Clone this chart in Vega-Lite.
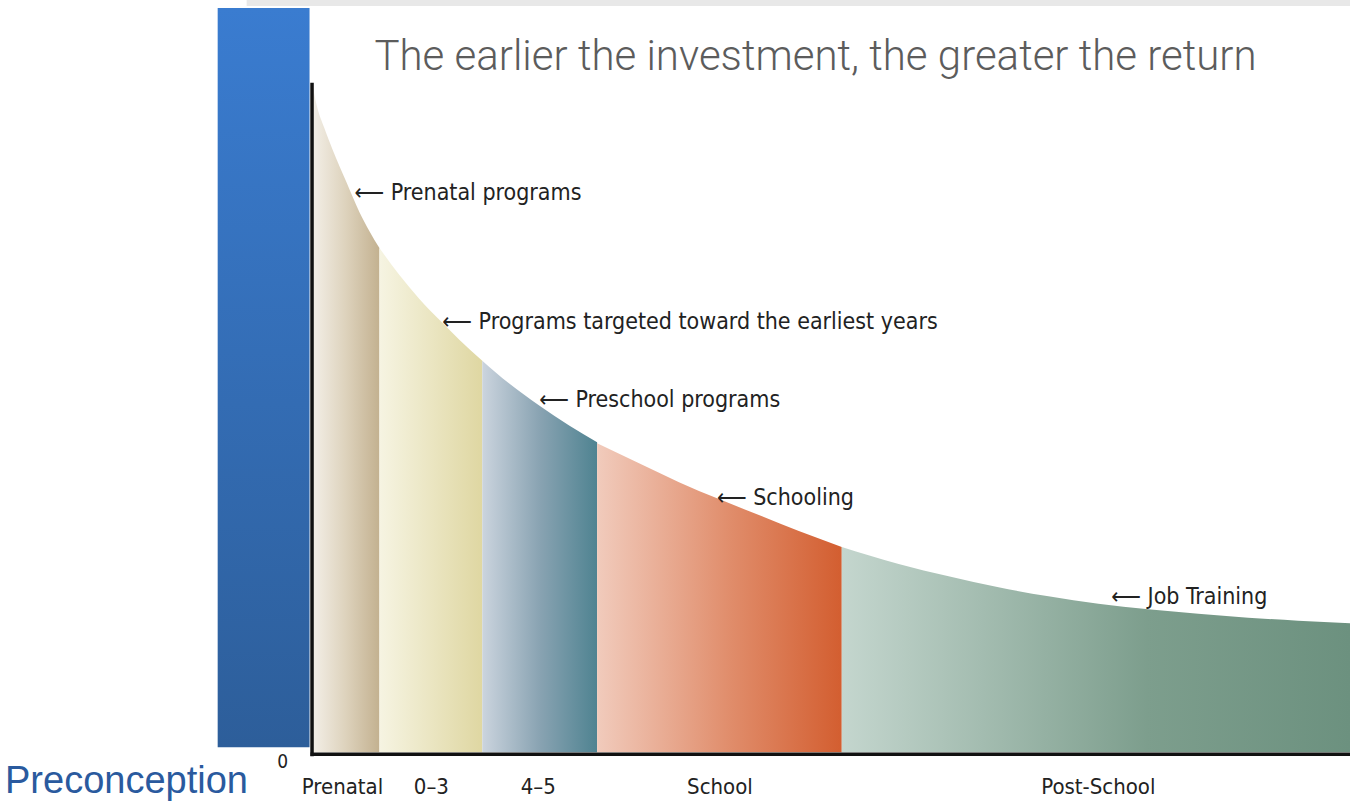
{
  "$schema": "https://vega.github.io/schema/vega-lite/v6.json",
  "width": 1352,
  "height": 801,
  "autosize": {"type": "fit", "contains": "padding"},
  "padding": 0,
  "background": "white",
  "config": {"view": {"stroke": null}},
  "datasets": {
    "curve": [
      {"seg": "Prenatal", "x": 0, "r": 670},
      {"seg": "Prenatal", "x": 4, "r": 650},
      {"seg": "Prenatal", "x": 12, "r": 626},
      {"seg": "Prenatal", "x": 20, "r": 605},
      {"seg": "Prenatal", "x": 34, "r": 572},
      {"seg": "Prenatal", "x": 47, "r": 542},
      {"seg": "Prenatal", "x": 57, "r": 523},
      {"seg": "Prenatal", "x": 67, "r": 506},
      {"seg": "0–3", "x": 67, "r": 506},
      {"seg": "0–3", "x": 87, "r": 479},
      {"seg": "0–3", "x": 107, "r": 455},
      {"seg": "0–3", "x": 127, "r": 434},
      {"seg": "0–3", "x": 147, "r": 414},
      {"seg": "0–3", "x": 170, "r": 393},
      {"seg": "4–5", "x": 170, "r": 393},
      {"seg": "4–5", "x": 197, "r": 370},
      {"seg": "4–5", "x": 227, "r": 348},
      {"seg": "4–5", "x": 257, "r": 328},
      {"seg": "4–5", "x": 285, "r": 311},
      {"seg": "School", "x": 285, "r": 310},
      {"seg": "School", "x": 327, "r": 290},
      {"seg": "School", "x": 367, "r": 271},
      {"seg": "School", "x": 407, "r": 254},
      {"seg": "School", "x": 447, "r": 238},
      {"seg": "School", "x": 487, "r": 222},
      {"seg": "School", "x": 530, "r": 206},
      {"seg": "Post-School", "x": 530, "r": 206},
      {"seg": "Post-School", "x": 587, "r": 189},
      {"seg": "Post-School", "x": 637, "r": 176.5},
      {"seg": "Post-School", "x": 687, "r": 165.5},
      {"seg": "Post-School", "x": 737, "r": 156.5},
      {"seg": "Post-School", "x": 787, "r": 149},
      {"seg": "Post-School", "x": 837, "r": 143.5},
      {"seg": "Post-School", "x": 887, "r": 139},
      {"seg": "Post-School", "x": 937, "r": 135},
      {"seg": "Post-School", "x": 987, "r": 132},
      {"seg": "Post-School", "x": 1039, "r": 129.5}
    ],
    "notes": [
      {"x": 42, "r": 561, "text": "⟵ Prenatal programs"},
      {"x": 130, "r": 432, "text": "⟵ Programs targeted toward the earliest years"},
      {"x": 227, "r": 353, "text": "⟵  Preschool programs"},
      {"x": 405, "r": 255, "text": "⟵ Schooling"},
      {"x": 800, "r": 156, "text": "⟵ Job Training"}
    ],
    "ticks": [
      {"x": 30, "text": "Prenatal"},
      {"x": 119, "text": "0–3"},
      {"x": 226, "text": "4–5"},
      {"x": 408, "text": "School"},
      {"x": 787, "text": "Post-School"}
    ],
    "pre": [
      {"x": -95, "x2": -3, "r": 747, "r2": 5, "name": "Preconception"}
    ],
    "strip": [
      {"x": -66, "x2": 1039, "r": 755, "r2": 749}
    ],
    "axes": [
      {"x": -0.5, "x2": -0.5, "r": 672, "r2": -4},
      {"x": -2, "x2": 1039, "r": -2, "r2": -2}
    ]
  },
  "layer": [
    {
      "data": {"name": "strip"},
      "mark": {"type": "rect", "color": "#e8e8e8"},
      "encoding": {
        "x": {"field": "x", "type": "quantitative", "axis": null, "scale": {"domain": [-313, 1039], "nice": false, "zero": false}},
        "x2": {"field": "x2"},
        "y": {"field": "r", "type": "quantitative", "axis": null, "scale": {"domain": [-46, 755], "nice": false, "zero": false}},
        "y2": {"field": "r2"}
      }
    },
    {
      "data": {"name": "pre"},
      "mark": {"type": "rect", "color": {"gradient": "linear", "x1": 0, "y1": 0, "x2": 0, "y2": 1, "stops": [{"offset": 0, "color": "#3a7cd0"}, {"offset": 1, "color": "#2d5e9a"}]}},
      "encoding": {
        "x": {"field": "x", "type": "quantitative", "axis": null, "scale": {"domain": [-313, 1039], "nice": false, "zero": false}},
        "x2": {"field": "x2"},
        "y": {"field": "r", "type": "quantitative", "axis": null, "scale": {"domain": [-46, 755], "nice": false, "zero": false}},
        "y2": {"field": "r2"}
      }
    },
    {
      "data": {"name": "curve"},
      "transform": [{"filter": "datum.seg === 'Prenatal'"}],
      "mark": {"type": "area", "interpolate": "monotone", "color": {"gradient": "linear", "x1": 0, "y1": 0, "x2": 1, "y2": 0, "stops": [{"offset": 0, "color": "#f3efe7"}, {"offset": 0.5, "color": "#ddd2bc"}, {"offset": 1, "color": "#c3b190"}]}},
      "encoding": {
        "x": {"field": "x", "type": "quantitative", "axis": null, "scale": {"domain": [-313, 1039], "nice": false, "zero": false}},
        "y": {"field": "r", "type": "quantitative", "axis": null, "scale": {"domain": [-46, 755], "nice": false, "zero": false}}
      }
    },
    {
      "data": {"name": "curve"},
      "transform": [{"filter": "datum.seg === '0–3'"}],
      "mark": {"type": "area", "interpolate": "monotone", "color": {"gradient": "linear", "x1": 0, "y1": 0, "x2": 1, "y2": 0, "stops": [{"offset": 0, "color": "#f6f4e2"}, {"offset": 1, "color": "#dfd7a2"}]}},
      "encoding": {
        "x": {"field": "x", "type": "quantitative", "axis": null, "scale": {"domain": [-313, 1039], "nice": false, "zero": false}},
        "y": {"field": "r", "type": "quantitative", "axis": null, "scale": {"domain": [-46, 755], "nice": false, "zero": false}}
      }
    },
    {
      "data": {"name": "curve"},
      "transform": [{"filter": "datum.seg === '4–5'"}],
      "mark": {"type": "area", "interpolate": "monotone", "color": {"gradient": "linear", "x1": 0, "y1": 0, "x2": 1, "y2": 0, "stops": [{"offset": 0, "color": "#cbd4de"}, {"offset": 0.5, "color": "#89a3b2"}, {"offset": 1, "color": "#4f8391"}]}},
      "encoding": {
        "x": {"field": "x", "type": "quantitative", "axis": null, "scale": {"domain": [-313, 1039], "nice": false, "zero": false}},
        "y": {"field": "r", "type": "quantitative", "axis": null, "scale": {"domain": [-46, 755], "nice": false, "zero": false}}
      }
    },
    {
      "data": {"name": "curve"},
      "transform": [{"filter": "datum.seg === 'School'"}],
      "mark": {"type": "area", "interpolate": "monotone", "color": {"gradient": "linear", "x1": 0, "y1": 0, "x2": 1, "y2": 0, "stops": [{"offset": 0, "color": "#f1cbbc"}, {"offset": 0.55, "color": "#e08c6a"}, {"offset": 1, "color": "#d35e30"}]}},
      "encoding": {
        "x": {"field": "x", "type": "quantitative", "axis": null, "scale": {"domain": [-313, 1039], "nice": false, "zero": false}},
        "y": {"field": "r", "type": "quantitative", "axis": null, "scale": {"domain": [-46, 755], "nice": false, "zero": false}}
      }
    },
    {
      "data": {"name": "curve"},
      "transform": [{"filter": "datum.seg === 'Post-School'"}],
      "mark": {"type": "area", "interpolate": "monotone", "color": {"gradient": "linear", "x1": 0, "y1": 0, "x2": 1, "y2": 0, "stops": [{"offset": 0, "color": "#c4d6ce"}, {"offset": 0.6, "color": "#7d9e8d"}, {"offset": 1, "color": "#6c917f"}]}},
      "encoding": {
        "x": {"field": "x", "type": "quantitative", "axis": null, "scale": {"domain": [-313, 1039], "nice": false, "zero": false}},
        "y": {"field": "r", "type": "quantitative", "axis": null, "scale": {"domain": [-46, 755], "nice": false, "zero": false}}
      }
    },
    {
      "data": {"name": "axes"},
      "mark": {"type": "rule", "color": "#111111", "strokeWidth": 3.5},
      "encoding": {
        "x": {"field": "x", "type": "quantitative", "axis": null, "scale": {"domain": [-313, 1039], "nice": false, "zero": false}},
        "x2": {"field": "x2"},
        "y": {"field": "r", "type": "quantitative", "axis": null, "scale": {"domain": [-46, 755], "nice": false, "zero": false}},
        "y2": {"field": "r2"}
      }
    },
    {
      "data": {"name": "notes"},
      "mark": {"type": "text", "align": "left", "baseline": "middle", "font": "DejaVu Sans Condensed", "fontSize": 23, "color": "#222222"},
      "encoding": {
        "x": {"field": "x", "type": "quantitative", "axis": null, "scale": {"domain": [-313, 1039], "nice": false, "zero": false}},
        "y": {"field": "r", "type": "quantitative", "axis": null, "scale": {"domain": [-46, 755], "nice": false, "zero": false}},
        "text": {"field": "text"}
      }
    },
    {
      "data": {"name": "ticks"},
      "mark": {"type": "text", "align": "center", "baseline": "alphabetic", "font": "DejaVu Sans Condensed", "fontSize": 22, "color": "#222222"},
      "encoding": {
        "x": {"field": "x", "type": "quantitative", "axis": null, "scale": {"domain": [-313, 1039], "nice": false, "zero": false}},
        "y": {"datum": -42, "type": "quantitative", "axis": null, "scale": {"domain": [-46, 755], "nice": false, "zero": false}},
        "text": {"field": "text"}
      }
    },
    {
      "data": {"values": [{"x": -30, "text": "0"}]},
      "mark": {"type": "text", "align": "center", "baseline": "alphabetic", "font": "DejaVu Sans Condensed", "fontSize": 19, "color": "#222222"},
      "encoding": {
        "x": {"field": "x", "type": "quantitative", "axis": null, "scale": {"domain": [-313, 1039], "nice": false, "zero": false}},
        "y": {"datum": -16, "type": "quantitative", "axis": null, "scale": {"domain": [-46, 755], "nice": false, "zero": false}},
        "text": {"field": "text"}
      }
    },
    {
      "data": {"name": "pre"},
      "mark": {"type": "text", "align": "left", "baseline": "alphabetic", "font": "Liberation Sans", "fontSize": 38, "color": "#2a5a9e"},
      "encoding": {
        "x": {"datum": -308, "type": "quantitative", "axis": null, "scale": {"domain": [-313, 1039], "nice": false, "zero": false}},
        "y": {"datum": -41, "type": "quantitative", "axis": null, "scale": {"domain": [-46, 755], "nice": false, "zero": false}},
        "text": {"field": "name"}
      }
    },
    {
      "data": {"values": [{"x": 62, "text": "The earlier the investment, the greater the return"}]},
      "mark": {"type": "text", "align": "left", "baseline": "alphabetic", "font": "Roboto", "fontWeight": 300, "fontSize": 42, "color": "#5c5c5c"},
      "encoding": {
        "x": {"field": "x", "type": "quantitative", "axis": null, "scale": {"domain": [-313, 1039], "nice": false, "zero": false}},
        "y": {"datum": 685, "type": "quantitative", "axis": null, "scale": {"domain": [-46, 755], "nice": false, "zero": false}},
        "text": {"field": "text"}
      }
    }
  ]
}
